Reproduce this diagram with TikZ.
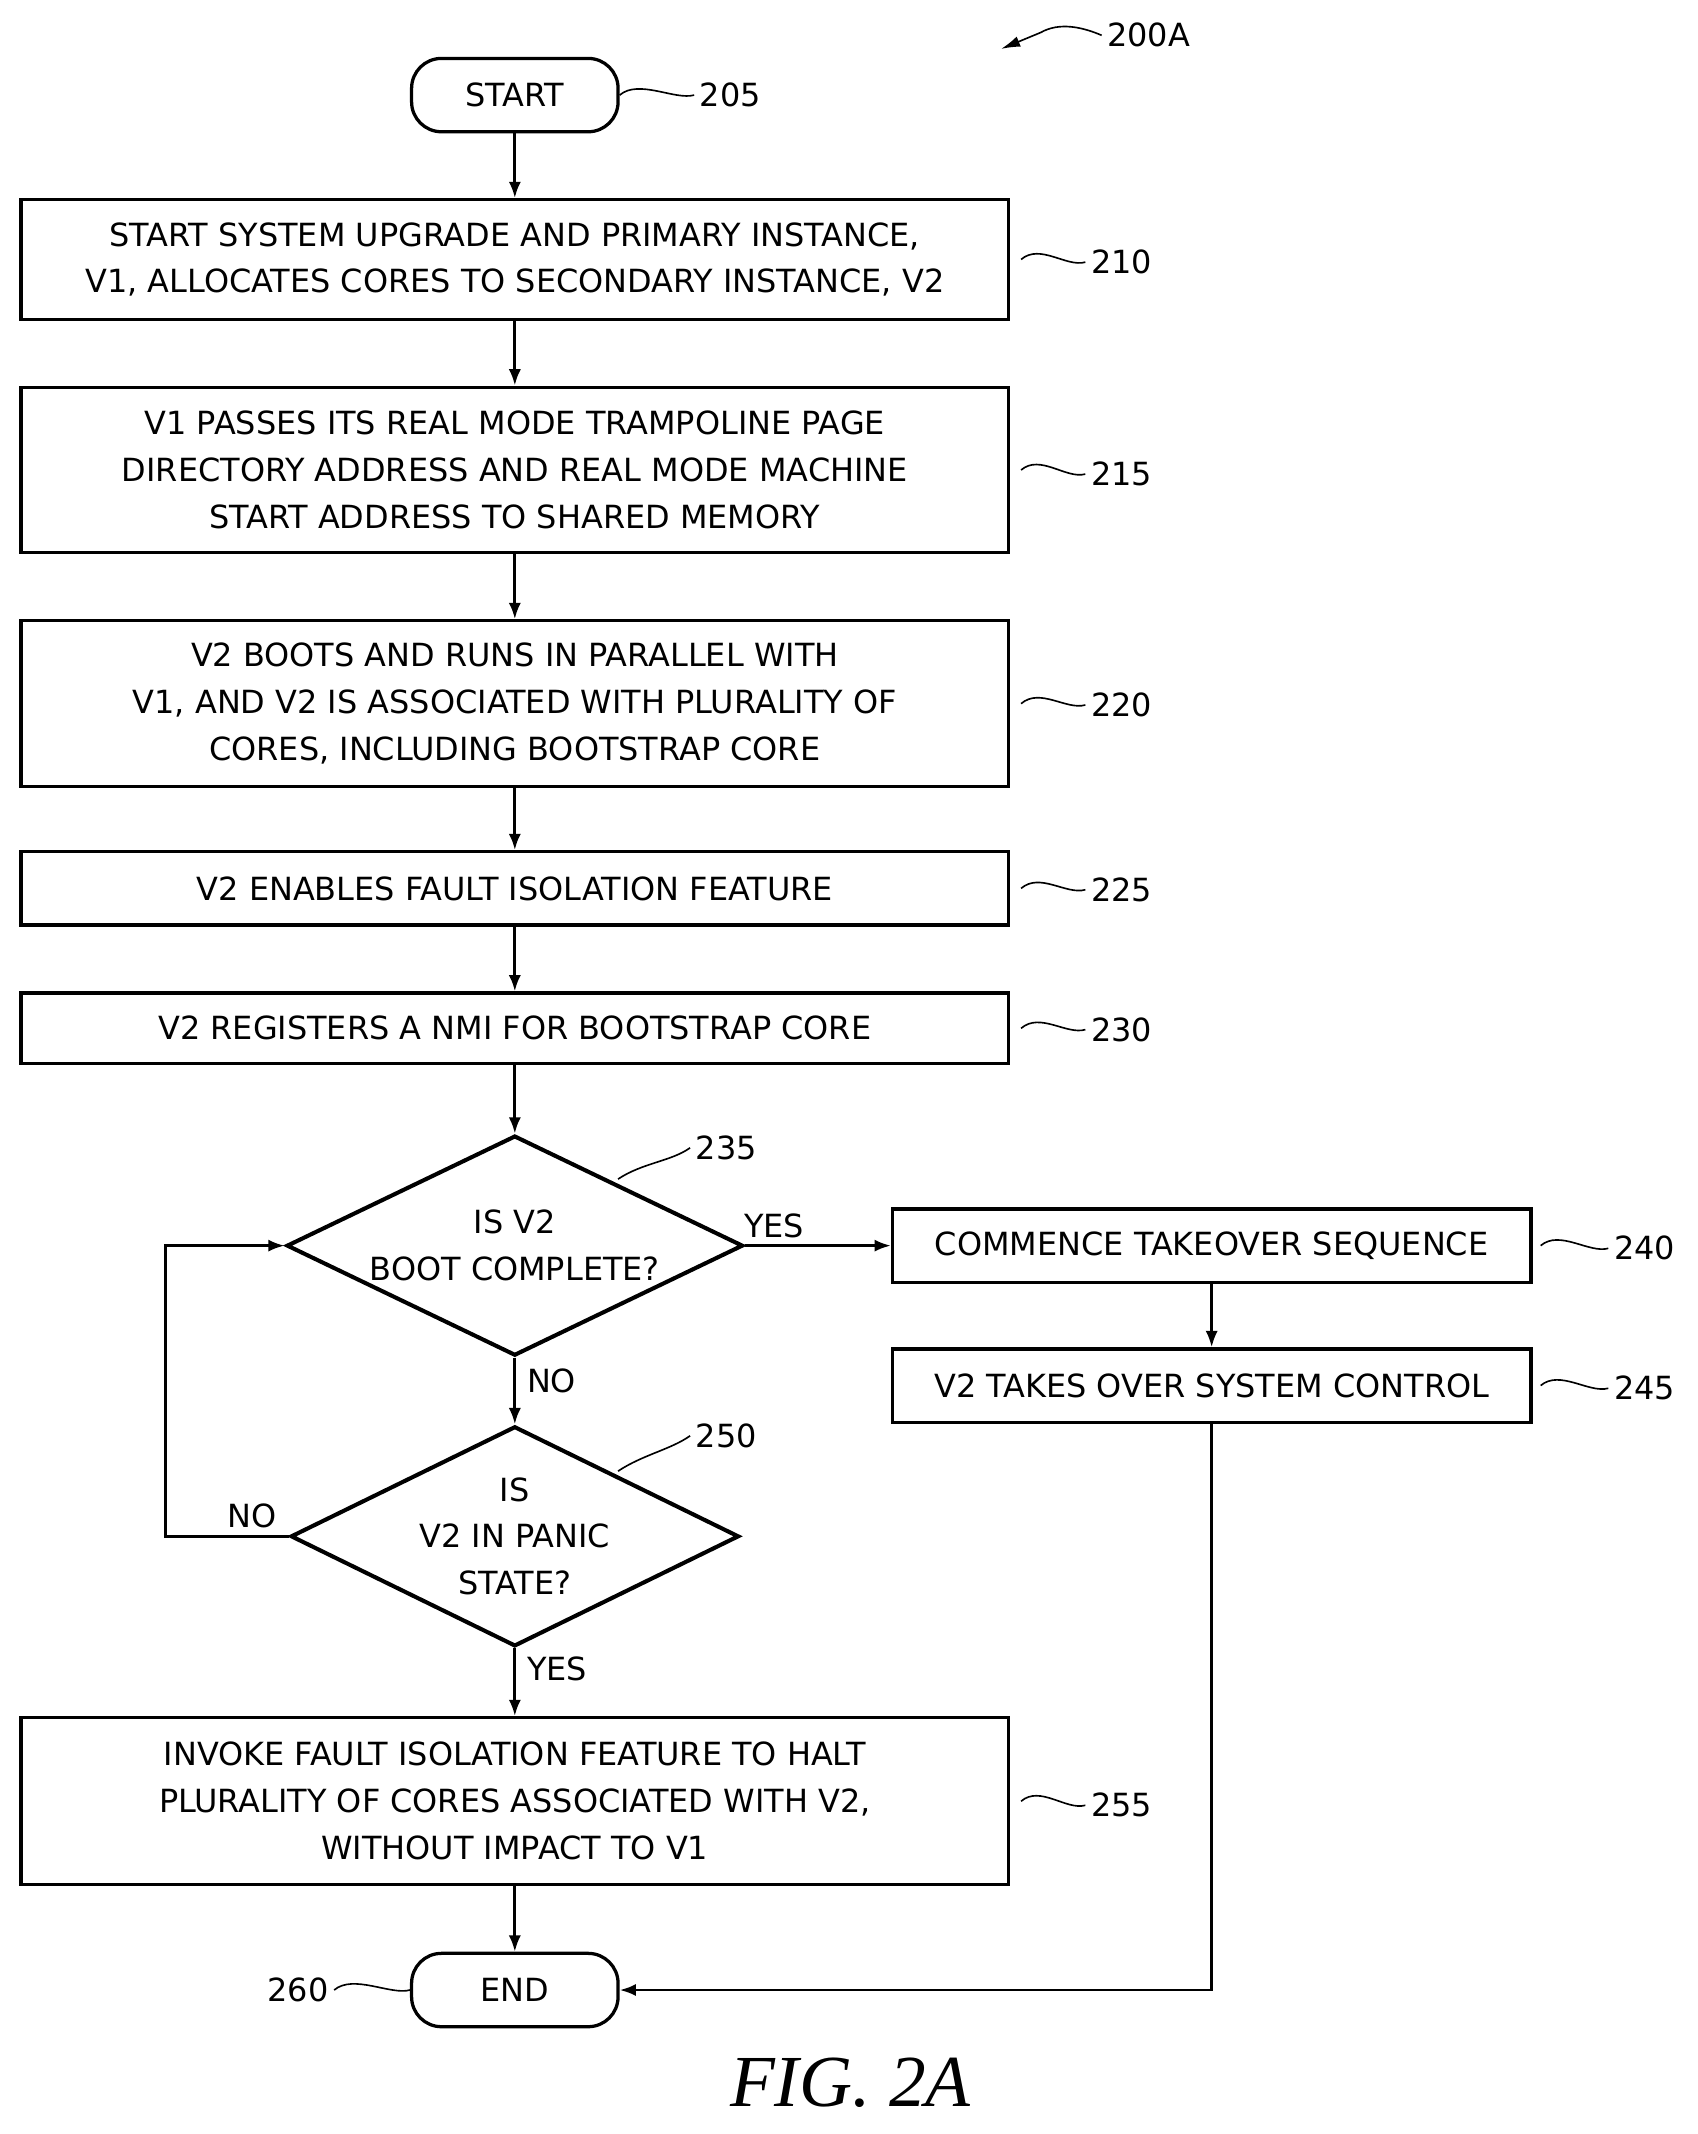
\documentclass[tikz,border=0pt]{standalone}
\usepackage{fontspec}
\setmainfont{DejaVu Sans}
\newfontfamily\figfont{Liberation Serif}
\usetikzlibrary{shapes.geometric,arrows.meta}
\begin{document}
\begin{tikzpicture}[x=1pt,y=-1pt,
  every node/.style={font=\fontsize{23.5}{34.5}\selectfont, inner sep=0pt},
  box/.style={draw, line width=2.4pt, align=center, minimum width=727pt},
  sbox/.style={draw, line width=2.4pt, align=center, minimum width=470pt, minimum height=54pt},
  term/.style={draw, line width=2.4pt, rounded corners=22pt, minimum width=152pt, minimum height=54pt},
  dia/.style={draw, diamond, line width=3pt, align=center, aspect=2.05},
  arr/.style={line width=2pt, -{Latex[length=12pt,width=9pt]}},
  lead/.style={line width=1.2pt},
  lbl/.style={anchor=west}]
\useasboundingbox (0,0) rectangle (1250,1571);
\node[term] (start) at (379,70) {START};
\node[box, minimum height=88pt] (b210) at (379,191) {START SYSTEM UPGRADE AND PRIMARY INSTANCE,\\V1, ALLOCATES CORES TO SECONDARY INSTANCE, V2};
\node[box, minimum height=122pt] (b215) at (379,346) {V1 PASSES ITS REAL MODE TRAMPOLINE PAGE\\DIRECTORY ADDRESS AND REAL MODE MACHINE\\START ADDRESS TO SHARED MEMORY};
\node[box, minimum height=122pt] (b220) at (379,518) {V2 BOOTS AND RUNS IN PARALLEL WITH\\V1, AND V2 IS ASSOCIATED WITH PLURALITY OF\\CORES, INCLUDING BOOTSTRAP CORE};
\node[box, minimum height=54pt] (b225) at (379,654) {V2 ENABLES FAULT ISOLATION FEATURE};
\node[box, minimum height=52pt] (b230) at (379,757) {V2 REGISTERS A NMI FOR BOOTSTRAP CORE};
\node[dia, minimum width=336pt, minimum height=162pt] (d235) at (379,917) {IS V2\\BOOT COMPLETE?};
\node[dia, minimum width=330pt, minimum height=162pt] (d250) at (379,1131) {IS\\V2 IN PANIC\\STATE?};
\node[sbox] (b240) at (892,917) {COMMENCE TAKEOVER SEQUENCE};
\node[sbox] (b245) at (892,1020) {V2 TAKES OVER SYSTEM CONTROL};
\node[box, minimum height=123pt] (b255) at (379,1326) {INVOKE FAULT ISOLATION FEATURE TO HALT\\PLURALITY OF CORES ASSOCIATED WITH V2,\\WITHOUT IMPACT TO V1};
\node[term] (end) at (379,1465) {END};

\draw[arr] (start) -- (b210);
\draw[arr] (b210) -- (b215);
\draw[arr] (b215) -- (b220);
\draw[arr] (b220) -- (b225);
\draw[arr] (b225) -- (b230);
\draw[arr] (b230) -- (d235);
\draw[arr] (d235) -- node[right=8pt, pos=0.35] {NO} (d250);
\draw[arr] (d235.east) -- node[above=5pt, pos=0.2] {YES} (b240);
\draw[arr] (b240) -- (b245);
\draw[arr] (d250.west) -- node[above=5pt, pos=0.3] {NO} (122,1131) -- (122,917) -- (d235.west);
\draw[arr] (d250) -- node[right=8pt, pos=0.3] {YES} (b255);
\draw[arr] (b255) -- (end);
\draw[arr] (b245) -- (892,1465) -- (end.east);

\node[lbl] (l205) at (515,70) {205};
\node[lbl] (l210) at (803,193) {210};
\node[lbl] (l215) at (803,349) {215};
\node[lbl] (l220) at (803,519) {220};
\node[lbl] (l225) at (803,655) {225};
\node[lbl] (l230) at (803,758) {230};
\node[lbl] (l235) at (512,845) {235};
\node[lbl] (l240) at (1188,919) {240};
\node[lbl] (l245) at (1188,1022) {245};
\node[lbl] (l250) at (512,1057) {250};
\node[lbl] (l255) at (803,1329) {255};
\node[anchor=east] (l260) at (242,1465) {260};
\node[lbl] (l200) at (815,26) {200A};
\node[font=\figfont\itshape\fontsize{54}{54}\selectfont] (fig) at (626,1533) {FIG. 2A};

\draw[lead] (start.east) .. controls +(14,-12) and +(-14,4) .. ([xshift=-4pt]l205.west);
\foreach \b/\l in {b210/l210,b215/l215,b220/l220,b225/l225,b230/l230,b255/l255}
  \draw[lead] (\b.east) ++(8,0) .. controls +(14,-12) and +(-14,4) .. ([xshift=-4pt]\l.west);
\foreach \b/\l in {b240/l240,b245/l245}
  \draw[lead] (\b.east) ++(6,0) .. controls +(14,-12) and +(-14,4) .. ([xshift=-4pt]\l.west);
\draw[lead] (455,868) .. controls +(18,-12) and +(-14,10) .. ([xshift=-4pt]l235.west);
\draw[lead] (455,1083) .. controls +(18,-12) and +(-14,10) .. ([xshift=-4pt]l250.west);
\draw[lead] ([xshift=4pt]l260.east) .. controls +(14,-12) and +(-14,4) .. (end.west);
\draw[lead, -{Latex[length=14pt,width=8pt]}] ([xshift=-4pt]l200.west) .. controls +(-14,-6) and +(14,-8) .. (766,24) -- (737,36);
\end{tikzpicture}
\end{document}
